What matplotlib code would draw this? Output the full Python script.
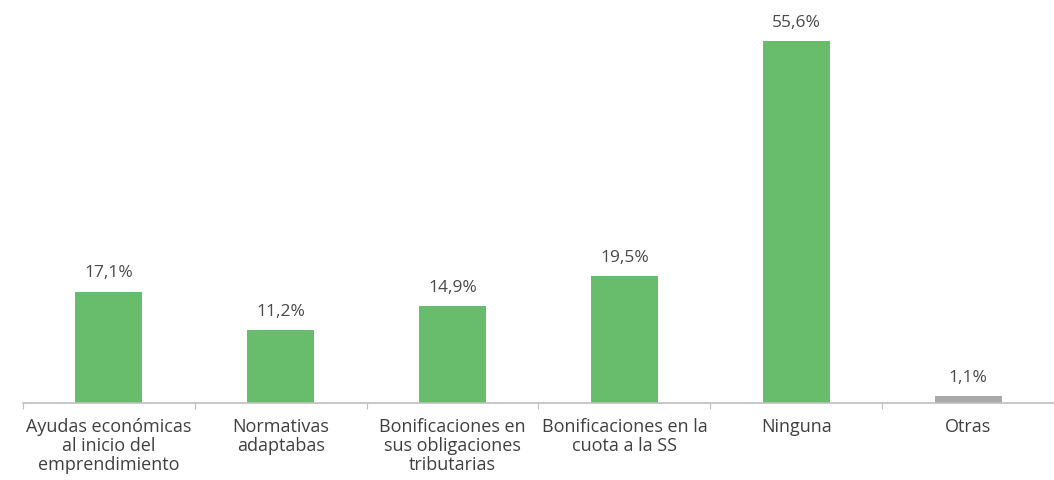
import matplotlib
matplotlib.use('Agg')
import matplotlib.pyplot as plt
import numpy as np

# Medidas de apoyo valoradas (% de respuestas)
categorias = ["Ayudas económicas\nal inicio del\nemprendimiento",
              "Normativas\nadaptabas",
              "Bonificaciones en\nsus obligaciones\ntributarias",
              "Bonificaciones en la\ncuota a la SS",
              "Ninguna",
              "Otras"]
valores = [17.1, 11.2, 14.9, 19.5, 55.6, 1.1]
colores = ["#67bd6b", "#67bd6b", "#67bd6b", "#67bd6b", "#67bd6b", "#a9a9a9"]

plt.rcParams['font.family'] = ['Open Sans', 'DejaVu Sans']

fig = plt.figure(figsize=(10.54, 4.81), dpi=100)
W, H = 1054, 481
paso = 174  # px por categoria
izq = 23
ax = fig.add_axes([izq / W, 77 / H, (W - izq) / W, 391 / H])

x = np.arange(len(categorias))
ax.bar(x, valores, width=0.39, color=colores)

for xi, v in zip(x, valores):
    ax.annotate(f"{v:.1f}%".replace('.', ','), (xi, v), xytext=(0, 8),
                textcoords='offset points', ha='center', va='bottom',
                fontsize=12.5, color='#4a4a4a')

ax.set_xlim(-0.5, -0.5 + (W - izq) / paso)
ax.set_ylim(0, 60)

# ticks en los limites entre categorias, etiquetas centradas
ax.set_xticks(np.arange(len(categorias) + 1) - 0.5)
ax.set_xticklabels([])
ax.set_xticks(x, minor=True)
ax.set_xticklabels(categorias, minor=True, fontsize=13, color='#404040',
                   linespacing=1.08, va='top')
ax.tick_params(axis='x', which='major', length=4, color='#bfbfbf', direction='out')
ax.tick_params(axis='x', which='minor', length=0, pad=10)
ax.set_yticks([])

for s in ['top', 'right', 'left']:
    ax.spines[s].set_visible(False)
ax.spines['bottom'].set_color('#bfbfbf')
ax.spines['bottom'].set_linewidth(1.2)

fig.savefig('out.png', dpi=100)
